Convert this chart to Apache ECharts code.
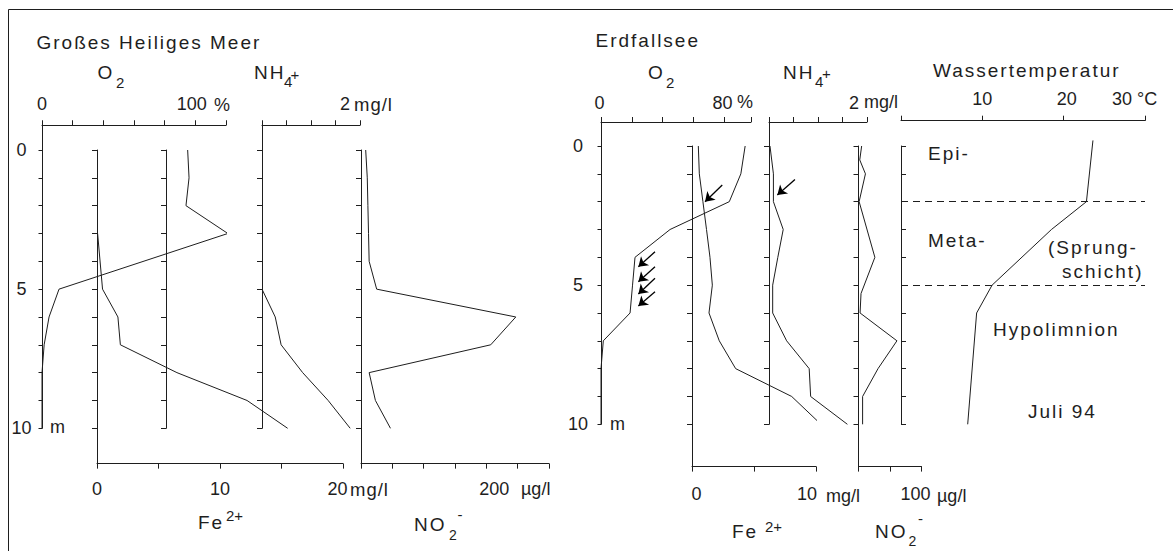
<!DOCTYPE html>
<html>
<head>
<meta charset="utf-8">
<script src="https://cdn.jsdelivr.net/npm/echarts@6/dist/echarts.min.js"></script>
<style>
html,body{margin:0;padding:0;background:#fff;}
#chart{width:1173px;height:551px;overflow:hidden;}
#chart svg text[style*="19px"]{letter-spacing:2px;}
#chart svg text[style*="18.5px"]{letter-spacing:1px;}
</style>
</head>
<body>
<div id="chart"></div>
<script>
// ================= DATA =================
// depth ruler (m)
const depthTicks  = [0,1,2,3,4,5,6,7,8,9,10];
const depthLabels = [0,5,10];

// Großes Heiliges Meer
const ghmO2Depth  = [0,1,2,3,5,6,7,8,9,10];
const ghmO2       = [95,95.9,93.9,121.2,11.1,4.6,1.4,0,0,0];          // %
const ghmFeDepth  = [3,5,6,7,8,9,10];
const ghmFe       = [0.05,0.45,1.7,1.9,6.5,12.2,15.5];                // mg/l
const ghmNH4Depth = [5,6,7,8,9,10];
const ghmNH4      = [0,0.27,0.39,0.83,1.35,1.8];                      // mg/l
const ghmNO2Depth = [0,1,2,3,4,5,6,7,8,9,10];
const ghmNO2      = [7.5,10,11,12,13,25,247,207,13,23,47];            // µg/l

// Erdfallsee
const efsO2Depth   = [0,1,2,3,4,5,6,7,8,9,10];
const efsO2        = [93.7,90.9,83.4,44.9,22.1,20.5,18.9,1.5,0,0,0];  // %
const efsFeDepth   = [0,1,2,3,4,5,6,7,8,9,10];
const efsFe        = [0.51,0.59,0.88,1.17,1.45,1.64,1.37,2.2,3.52,8.04,10.4];
const efsNH4Depth  = [0,1,2,3,4,5,6,7,8,9,10];
const efsNH4       = [0.02,0.09,0.09,0.29,0.18,0.075,0.075,0.36,0.82,0.85,1.6];
const efsNO2Depth  = [0,0.5,1,2,4,5.3,6,7,8,9,10];
const efsNO2       = [5,2,11,1,26,4,2.5,61,31,6.5,6.5];
const efsTempDepth = [-0.2,2,3,5,6,10];
const efsTemp      = [23.6,22.8,18.5,11.2,9.3,8.2];                   // °C
const layerBounds  = [2,5];                                           // m

// arrows: [from value, from depth, to value, to depth]
const o2Arrows  = [[35.1,3.80,24.3,4.34],[35.1,4.34,24.3,4.88],[35.1,4.75,24.3,5.32],[35.1,5.24,24.3,5.75]];
const feArrows  = [[2.44,1.40,1.05,2.0]];
const nh4Arrows = [[0.53,1.2,0.17,1.76]];

// axis ticks and tick labels
const ghmO2Ticks  = [0,20,40,60,80,100,120];      const ghmO2Labels  = [0,100];
const ghmFeTicks  = [0,5,10,15,20];               const ghmFeLabels  = [0,10,20];
const ghmNH4Ticks = [0,0.5,1,1.5,2];              const ghmNH4Labels = [2];
const ghmNO2Ticks = [0,50,100,150,200,250,300];   const ghmNO2Labels = [200];
const efsO2Ticks  = [0,20,40,60,80,97.5];         const efsO2Labels  = [0,80];
const efsFeTicks  = [0,5,10];                     const efsFeLabels  = [0,10];
const efsNH4Ticks = [0,0.5,1,1.5,2];              const efsNH4Labels = [2];
const efsNO2Ticks = [0,50,100];                   const efsNO2Labels = [100];
const tempTicks   = [0,10,20,30];                 const tempLabels   = [10,20,30];

// ================= LAYOUT / STYLE =================
const FONT = '"Liberation Sans", Arial, Helvetica, sans-serif';
const INK = '#1e1e1e';
const P_L = {y0:150, k:27.83};   // depth 0 pixel row, px per metre
const P_R = {y0:146, k:27.83};

const G = [
  {left:42,    width:184, p:P_L, d:[-0.889,10]},   // 0 depth axis + O2
  {left:97,    width:246, p:P_L, d:[0,11.27]},     // 1 Fe
  {left:166,   width:10,  p:P_L, d:[0,10]},        // 2 ruler
  {left:262,   width:98,  p:P_L, d:[-0.889,10]},   // 3 NH4
  {left:361,   width:188, p:P_L, d:[0,11.27]},     // 4 NO2
  {left:601,   width:150, p:P_R, d:[-0.862,10]},   // 5 depth axis + O2
  {left:692,   width:124, p:P_R, d:[0,11.52]},     // 6 Fe
  {left:769,   width:98,  p:P_R, d:[-0.862,10]},   // 7 NH4
  {left:858.5, width:63,  p:P_R, d:[0,11.52]},     // 8 NO2
  {left:901,   width:244, p:P_R, d:[0,10]}         // 9 temperature
];

const X = [
  {pos:'top',    min:0, max:120,  ticks:ghmO2Ticks,  labels:ghmO2Labels,  shift:[0,-3.5], margin:12},
  {pos:'bottom', min:0, max:20,   ticks:ghmFeTicks,  labels:ghmFeLabels,  shift:[0,0,-5.5], margin:16.5},
  null,
  {pos:'top',    min:0, max:2,    ticks:ghmNH4Ticks, labels:ghmNH4Labels, shift:[-15], margin:12},
  {pos:'bottom', min:0, max:300,  ticks:ghmNO2Ticks, labels:ghmNO2Labels, shift:[8], margin:16.5},
  {pos:'top',    min:0, max:97.5, ticks:efsO2Ticks,  labels:efsO2Labels,  shift:[-1.5,-1.5], margin:10},
  {pos:'bottom', min:0, max:10,   ticks:efsFeTicks,  labels:efsFeLabels,  shift:[4.5,-9], margin:18.5},
  {pos:'top',    min:0, max:2,    ticks:efsNH4Ticks, labels:efsNH4Labels, shift:[-13], margin:10},
  {pos:'bottom', min:0, max:100,  ticks:efsNO2Ticks, labels:efsNO2Labels, shift:[-6], margin:18.5},
  {pos:'top',    min:0, max:30,   ticks:tempTicks,   labels:tempLabels,   shift:[0,3,-23], margin:12.5, offset:25.3}
];

function shiftedLabel(vals, shifts, margin) {
  const rich = {};
  vals.forEach((v, i) => {
    const s = shifts[i] || 0;
    rich['s' + i] = {fontSize:18, fontFamily:FONT, color:INK,
      padding: s >= 0 ? [0,0,0,2*s] : [0,-2*s,0,0]};
  });
  return {
    show:true, customValues: vals, margin: margin,
    fontSize:18, fontFamily:FONT, color:INK,
    formatter: function (v) {
      const i = vals.findIndex(x => Math.abs(x - v) < 1e-6);
      return i < 0 ? '' : '{s' + i + '|' + String(vals[i]) + '}';
    },
    rich: rich
  };
}

const grids = G.map(g => ({
  left: g.left, width: g.width,
  top: g.p.y0 + g.d[0] * g.p.k,
  height: (g.d[1] - g.d[0]) * g.p.k,
  containLabel: false, outerBoundsMode: 'none', show: false
}));

const yAxes = G.map((g, i) => {
  const isDepth = (i === 0 || i === 5);
  return {
    gridIndex: i, type: 'value', inverse: true, min: g.d[0], max: g.d[1],
    axisLine: {show: true, onZero: false, lineStyle: {color: INK, width: 1}},
    axisTick: {show: true, customValues: depthTicks, length: isDepth ? 3.5 : 5,
               inside: i === 9, lineStyle: {color: INK, width: 1}},
    axisLabel: isDepth ? {show: true, customValues: depthLabels, align: 'center',
               margin: i === 0 ? 20.5 : 23, fontSize: 18, fontFamily: FONT, color: INK}
               : {show: false},
    splitLine: {show: false}
  };
});

const xAxes = X.map((x, i) => {
  if (!x) return {gridIndex: i, type: 'value', show: false, min: 0, max: 1};
  return {
    gridIndex: i, type: 'value', position: x.pos, min: x.min, max: x.max,
    offset: x.offset || 0,
    axisLine: {show: true, onZero: false, lineStyle: {color: INK, width: 1}},
    axisTick: {show: true, customValues: x.ticks, length: 5, lineStyle: {color: INK, width: 1}},
    axisLabel: shiftedLabel(x.labels, x.shift, x.margin),
    splitLine: {show: false}
  };
});

function prof(name, vals, depths, idx, extra) {
  return Object.assign({
    type: 'line', name: name, xAxisIndex: idx, yAxisIndex: idx,
    data: vals.map((v, i) => [v, depths[i]]),
    symbol: 'none', showSymbol: false, clip: false, silent: true,
    lineStyle: {color: INK, width: 1}, emphasis: {disabled: true}
  }, extra || {});
}
function arrows(name, list, idx) {
  return {
    type: 'lines', name: name, coordinateSystem: 'cartesian2d', xAxisIndex: idx, yAxisIndex: idx,
    symbol: ['none', 'arrow'], symbolSize: 9, silent: true, z: 5,
    lineStyle: {color: '#000', width: 1.3, opacity: 1, curveness: 0},
    data: list.map(a => ({coords: [[a[0], a[1]], [a[2], a[3]]]}))
  };
}

const series = [
  prof('GHM O2',  ghmO2,  ghmO2Depth, 0),
  prof('GHM Fe',  ghmFe,  ghmFeDepth, 1),
  prof('GHM NH4', ghmNH4, ghmNH4Depth, 3),
  prof('GHM NO2', ghmNO2, ghmNO2Depth, 4),
  prof('EFS O2',  efsO2,  efsO2Depth, 5),
  prof('EFS Fe',  efsFe,  efsFeDepth, 6),
  prof('EFS NH4', efsNH4, efsNH4Depth, 7),
  prof('EFS NO2', efsNO2, efsNO2Depth, 8),
  prof('EFS Temp', efsTemp, efsTempDepth, 9, {
    markLine: {silent: true, symbol: ['none', 'none'], label: {show: false},
      lineStyle: {color: INK, width: 1, type: [7, 5]},
      emphasis: {disabled: true},
      data: layerBounds.map(d => ({yAxis: d}))}
  }),
  arrows('O2 arrows', o2Arrows, 5),
  arrows('Fe arrow', feArrows, 6),
  arrows('NH4 arrow', nh4Arrows, 7)
];

function txt(text, x, y, size) {
  return {type: 'text', x: x, y: y, silent: true, z: 10,
    style: {text: text, fontSize: size, fontFamily: FONT, fill: INK,
      align: 'left', verticalAlign: 'middle', textAlign: 'left', textVerticalAlign: 'middle'}};
}
function ln(x1, y1, x2, y2) {
  return {type: 'line', silent: true, shape: {x1: x1, y1: y1, x2: x2, y2: y2},
    style: {stroke: INK, lineWidth: 1}};
}

const graphics = [
  ln(8.5, 9.5, 1173, 9.5), ln(8.5, 9.5, 8.5, 551),
  // titles
  txt('Großes Heiliges Meer', 36.5, 42, 19),
  txt('Erdfallsee', 595.5, 40.5, 19),
  // left headers
  txt('O', 97.5, 72, 19), txt('2', 116, 82, 15),
  txt('NH', 254, 72, 19), txt('4', 284, 81, 15), txt('+', 290.5, 74, 15),
  // right headers
  txt('O', 648, 72, 19), txt('2', 666, 82, 15),
  txt('NH', 783, 72, 19), txt('4', 815, 81, 15), txt('+', 822, 73, 15),
  txt('Wassertemperatur', 933, 70, 19),
  // bottom headers
  txt('Fe', 198, 522, 19), txt('2+', 226, 515, 15),
  txt('NO', 414, 524, 19), txt('2', 449, 535, 14), txt('-', 457.5, 514, 15),
  txt('Fe', 732, 531, 19), txt('2+', 765, 526, 15),
  txt('NO', 875, 531, 19), txt('2', 908.5, 541, 14), txt('-', 918, 518, 15),
  // units
  txt('%', 214, 104.5, 18), txt('mg/l', 354, 104.5, 18.5),
  txt('%', 737, 102, 18), txt('mg/l', 864, 102, 18), txt('°C', 1137, 99, 18),
  txt('mg/l', 350, 489, 18.5), txt('µg/l', 521, 489, 18),
  txt('mg/l', 826, 496, 18), txt('µg/l', 937, 496, 18),
  txt('m', 50, 427, 18), txt('m', 610, 423.5, 18),
  // lake layers
  txt('Epi-', 928, 153, 19),
  txt('Meta-', 928, 240, 19),
  txt('(Sprung-', 1048, 247, 19),
  txt('schicht)', 1062, 271, 19),
  txt('Hypolimnion', 993, 329, 19),
  txt('Juli 94', 1028, 411.5, 19)
];

const chart = echarts.init(document.getElementById('chart'), null, {renderer: 'svg', width: 1173, height: 551});
chart.setOption({
  backgroundColor: '#fff',
  animation: false,
  grid: grids,
  xAxis: xAxes,
  yAxis: yAxes,
  series: series,
  graphic: graphics
});
</script>
</body>
</html>
